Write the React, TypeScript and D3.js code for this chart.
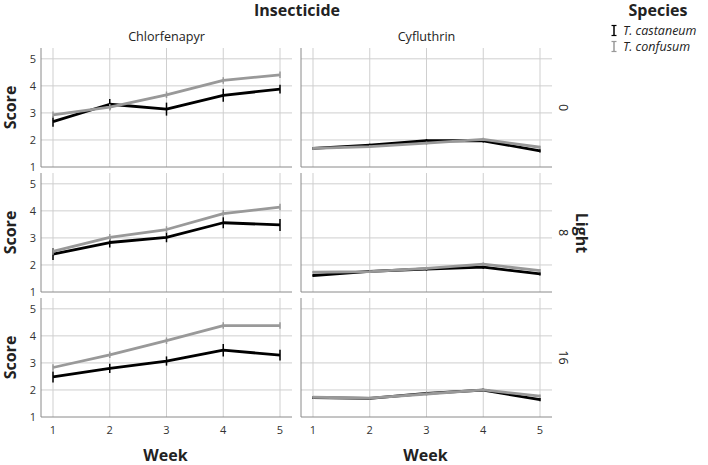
import React from "react";
import * as d3 from "d3";

const weeks = [1, 2, 3, 4, 5];
const insecticides = ["Chlorfenapyr", "Cyfluthrin"];
const lights = ["0", "8", "16"];
const speciesNames = ["T. castaneum", "T. confusum"];
const speciesColors = ["#000000", "#999999"];
const yTicks = [1, 2, 3, 4, 5];

// values[light][insecticide][species]
const chlorCastL0 = [2.68, 3.32, 3.14, 3.65, 3.88];
const chlorConfL0 = [2.93, 3.21, 3.67, 4.2, 4.41];
const cyfCastL0 = [1.69, 1.81, 1.97, 1.97, 1.6];
const cyfConfL0 = [1.69, 1.75, 1.88, 2.02, 1.73];
const chlorCastL8 = [2.4, 2.83, 3.02, 3.56, 3.48];
const chlorConfL8 = [2.5, 3.02, 3.31, 3.9, 4.14];
const cyfCastL8 = [1.61, 1.76, 1.85, 1.92, 1.67];
const cyfConfL8 = [1.73, 1.75, 1.87, 2.03, 1.79];
const chlorCastL16 = [2.48, 2.8, 3.07, 3.47, 3.29];
const chlorConfL16 = [2.83, 3.3, 3.82, 4.38, 4.38];
const cyfCastL16 = [1.72, 1.69, 1.87, 1.99, 1.64];
const cyfConfL16 = [1.73, 1.7, 1.85, 2.0, 1.77];

// error half-widths
const chlorCastErrL0 = [0.19, 0.19, 0.24, 0.24, 0.16];
const chlorCastErrL8 = [0.22, 0.18, 0.18, 0.2, 0.22];
const chlorCastErrL16 = [0.2, 0.17, 0.17, 0.23, 0.2];
const chlorConfErr = [0.12, 0.12, 0.12, 0.12, 0.12];
const cyfErr = [0.05, 0.05, 0.06, 0.06, 0.06];

const values = [
  [
    [chlorCastL0, chlorConfL0],
    [cyfCastL0, cyfConfL0],
  ],
  [
    [chlorCastL8, chlorConfL8],
    [cyfCastL8, cyfConfL8],
  ],
  [
    [chlorCastL16, chlorConfL16],
    [cyfCastL16, cyfConfL16],
  ],
];
const errors = [
  [
    [chlorCastErrL0, chlorConfErr],
    [cyfErr, cyfErr],
  ],
  [
    [chlorCastErrL8, chlorConfErr],
    [cyfErr, cyfErr],
  ],
  [
    [chlorCastErrL16, chlorConfErr],
    [cyfErr, cyfErr],
  ],
];

const W = 708;
const H = 465;
const colLeft = [41, 301];
const colWidth = 251;
const rowTop = [48, 173, 298];
const rowHeight = 119;
const FONT = "'Open Sans', 'Noto Sans', sans-serif";

export default function App() {
  const panels: React.ReactNode[] = [];
  lights.forEach((light, r) => {
    insecticides.forEach((ins, c) => {
      const left = colLeft[c];
      const right = left + colWidth;
      const top = rowTop[r];
      const bottom = top + rowHeight;
      const x = d3.scaleLinear().domain([1, 5]).range([left + 12, right - 12]);
      const y = d3.scaleLinear().domain([1, 5.4]).range([bottom, top]);
      const line = d3
        .line<number>()
        .x((_, i) => x(weeks[i]))
        .y((v) => y(v));
      panels.push(
        <g key={`p-${r}-${c}`}>
          {weeks.map((w) => (
            <line key={`vx${w}`} x1={x(w)} x2={x(w)} y1={top} y2={bottom} stroke="#cfcfcf" strokeWidth={1} />
          ))}
          {yTicks.slice(1).map((t) => (
            <line key={`hy${t}`} x1={left} x2={right} y1={y(t)} y2={y(t)} stroke="#cfcfcf" strokeWidth={1} />
          ))}
          <line x1={left} x2={left} y1={top} y2={bottom} stroke="#8a8a8a" strokeWidth={1} />
          <line x1={left} x2={right} y1={bottom} y2={bottom} stroke="#8a8a8a" strokeWidth={1} />
          {c === 0 &&
            yTicks.map((t) => (
              <text key={`yt${t}`} x={left - 5} y={y(t)} dy="0.35em" textAnchor="end" fontSize={11} fill="#333" fontFamily={FONT}>
                {t}
              </text>
            ))}
          {r === lights.length - 1 &&
            weeks.map((w) => (
              <text key={`xt${w}`} x={x(w)} y={bottom + 13} dy="0.35em" textAnchor="middle" fontSize={11} fill="#333" fontFamily={FONT}>
                {w}
              </text>
            ))}
          {speciesNames.map((s, si) => (
            <g key={`s${si}`}>
              <path d={line(values[r][c][si]) || ""} fill="none" stroke={speciesColors[si]} strokeWidth={2.8} strokeLinejoin="round" />
              {values[r][c][si].map((v, i) => (
                <line
                  key={`e${i}`}
                  x1={x(weeks[i])}
                  x2={x(weeks[i])}
                  y1={y(v - errors[r][c][si][i])}
                  y2={y(v + errors[r][c][si][i])}
                  stroke={speciesColors[si]}
                  strokeWidth={1.5}
                />
              ))}
            </g>
          ))}
        </g>
      );
    });
  });

  return (
    <svg width={W} height={H} style={{ position: "absolute", left: 0, top: 0, background: "#fff" }}>
      <rect x={0} y={0} width={W} height={H} fill="#fff" />
      <text x={297} y={16} textAnchor="middle" fontSize={16} fontWeight="bold" fill="#222" fontFamily={FONT}>
        Insecticide
      </text>
      {insecticides.map((ins, c) => (
        <text key={ins} x={colLeft[c] + colWidth / 2} y={41} textAnchor="middle" fontSize={12.6} fill="#222" fontFamily={FONT}>
          {ins}
        </text>
      ))}
      {panels}
      {lights.map((l, r) => (
        <g key={`rl${r}`}>
          <text
            transform={`translate(563,${rowTop[r] + rowHeight / 2}) rotate(90)`}
            textAnchor="middle"
            dy="0.35em"
            fontSize={12.6}
            fill="#222"
            fontFamily={FONT}
          >
            {l}
          </text>
          <text
            transform={`translate(10,${rowTop[r] + rowHeight / 2}) rotate(-90)`}
            textAnchor="middle"
            dy="0.35em"
            fontSize={16}
            fontWeight="bold"
            fill="#222"
            fontFamily={FONT}
          >
            Score
          </text>
        </g>
      ))}
      <text transform="translate(582,233) rotate(90)" textAnchor="middle" dy="0.35em" fontSize={16} fontWeight="bold" fill="#222" fontFamily={FONT}>
        Light
      </text>
      {insecticides.map((ins, c) => (
        <text key={`wk${c}`} x={colLeft[c] + colWidth / 2 - 1} y={455} dy="0.35em" textAnchor="middle" fontSize={16} fontWeight="bold" fill="#222" fontFamily={FONT}>
          Week
        </text>
      ))}
      <text x={658} y={16} textAnchor="middle" fontSize={16} fontWeight="bold" fill="#222" fontFamily={FONT}>
        Species
      </text>
      {speciesNames.map((s, i) => (
        <g key={`lg${i}`}>
          <line x1={614} x2={614} y1={25.5 + i * 16} y2={35.5 + i * 16} stroke={speciesColors[i]} strokeWidth={1.5} />
          <line x1={611.5} x2={616.5} y1={25.5 + i * 16} y2={25.5 + i * 16} stroke={speciesColors[i]} strokeWidth={1.2} />
          <line x1={611.5} x2={616.5} y1={35.5 + i * 16} y2={35.5 + i * 16} stroke={speciesColors[i]} strokeWidth={1.2} />
          <text x={623} y={30.5 + i * 16} dy="0.35em" fontSize={12.5} fontStyle="italic" fill="#222" fontFamily={FONT}>
            {s}
          </text>
        </g>
      ))}
    </svg>
  );
}
